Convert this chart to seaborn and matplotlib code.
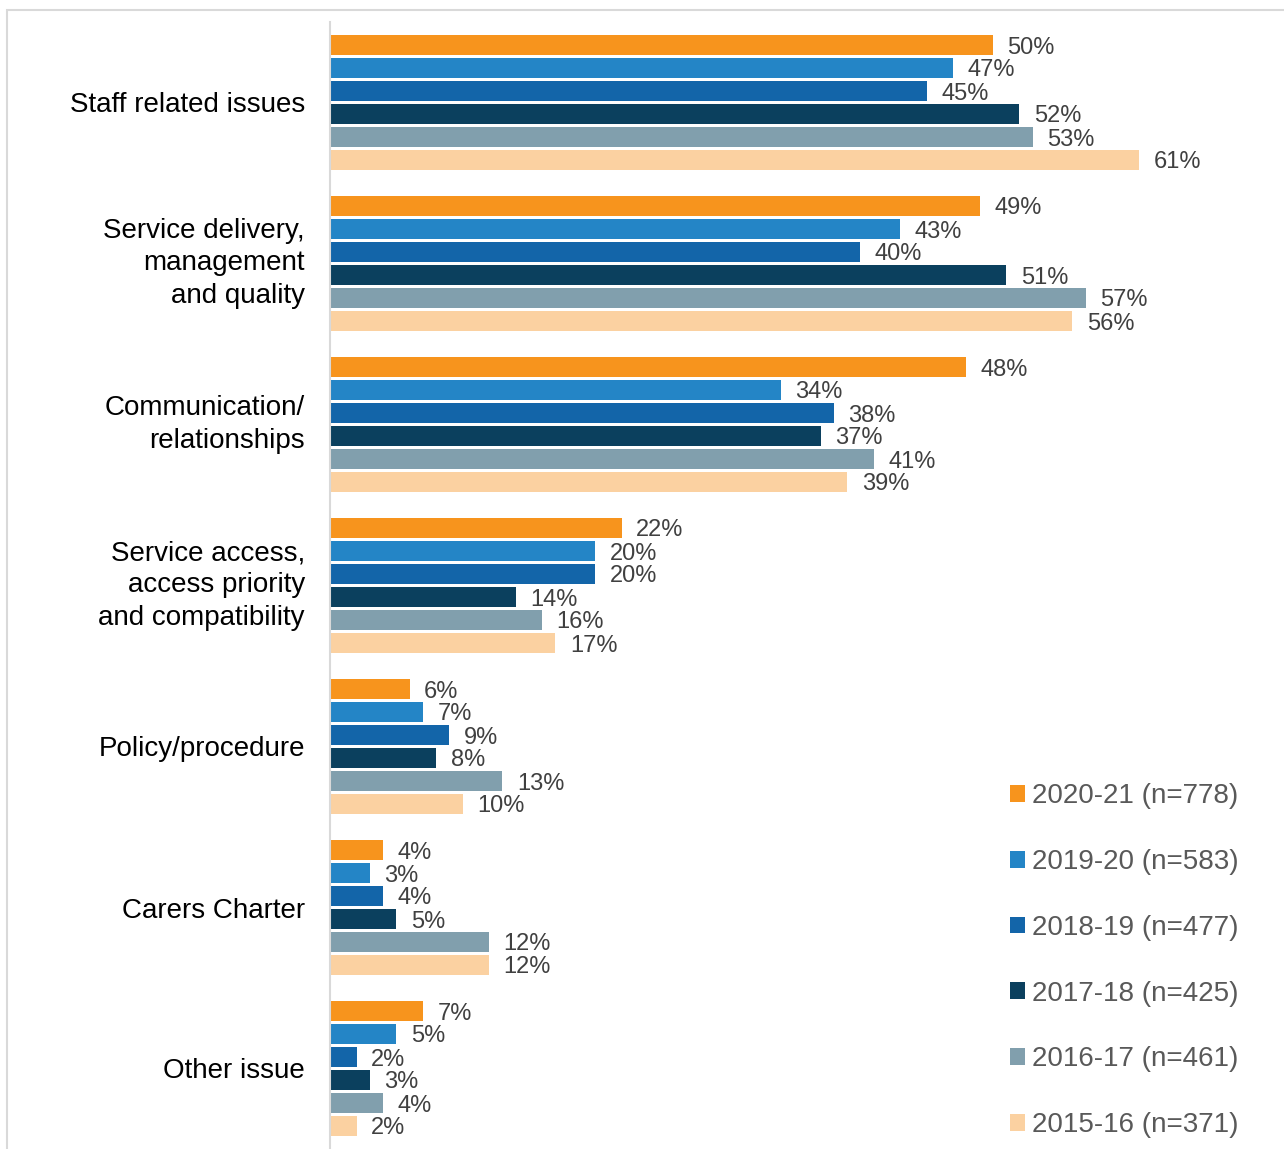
import matplotlib
matplotlib.use("Agg")
import matplotlib.pyplot as plt
import matplotlib.patches as mpatches
import pandas as pd
import seaborn as sns

categories = [
    "Staff related issues",
    "Service delivery,\nmanagement\nand quality",
    "Communication/\nrelationships",
    "Service access,\naccess priority\nand compatibility",
    "Policy/procedure",
    "Carers Charter",
    "Other issue",
]
series = [
    "2020-21 (n=778)",
    "2019-20 (n=583)",
    "2018-19 (n=477)",
    "2017-18 (n=425)",
    "2016-17 (n=461)",
    "2015-16 (n=371)",
]
values_2020_21 = [50, 49, 48, 22, 6, 4, 7]
values_2019_20 = [47, 43, 34, 20, 7, 3, 5]
values_2018_19 = [45, 40, 38, 20, 9, 4, 2]
values_2017_18 = [52, 51, 37, 14, 8, 5, 3]
values_2016_17 = [53, 57, 41, 16, 13, 12, 4]
values_2015_16 = [61, 56, 39, 17, 10, 12, 2]
colors = ["#F7941D", "#2485C6", "#1365A9", "#0B405E", "#819FAD", "#FBD1A1"]

all_values = [values_2020_21, values_2019_20, values_2018_19,
              values_2017_18, values_2016_17, values_2015_16]
rows = []
for s, vals in zip(series, all_values):
    for c, v in zip(categories, vals):
        rows.append({"category": c, "period": s, "pct": v})
df = pd.DataFrame(rows)

sns.set_theme(style="white")
plt.rcParams["font.family"] = ["Liberation Sans", "DejaVu Sans"]

W, H = 1284, 1149
fig = plt.figure(figsize=(W / 100, H / 100), dpi=100)
ax = fig.add_axes([330 / W, 0.0, 928 / W, 1 - 22 / H])

sns.barplot(
    data=df, y="category", x="pct", hue="period",
    order=categories, hue_order=series,
    palette=dict(zip(series, colors)),
    orient="h", width=6 / 7, gap=0.17, ax=ax,
    saturation=1, errorbar=None, linewidth=0,
)

for cont in ax.containers:
    labels = ax.bar_label(cont, fmt="{:.0f}%", padding=10.5,
                          fontsize=17, color="#404040")
    for t in labels:
        t.set_verticalalignment("center_baseline")

ax.set_xlim(0, 70)
ax.set_xlabel("")
ax.set_ylabel("")
ax.set_xticks([])
ax.tick_params(axis="y", length=0, pad=18, labelsize=20, labelcolor="black")
for lab in ax.get_yticklabels():
    lab.set_linespacing(1.32)
    if "\n" in lab.get_text():
        lab.set_verticalalignment("center")
for side in ["top", "right", "bottom"]:
    ax.spines[side].set_visible(False)
ax.spines["left"].set_color("#D9D9D9")
ax.spines["left"].set_linewidth(1.5)

sns.move_legend(
    ax, loc="lower right",
    bbox_to_anchor=(1239 / W, 1 - 1138 / H), bbox_transform=fig.transFigure,
    title=None, frameon=False, fontsize=20, labelcolor="#595959",
    handlelength=0.55, handleheight=0.55, handletextpad=0.25,
    labelspacing=1.43, borderpad=0, borderaxespad=0,
)

# light frame around the whole figure
fig.patches.append(mpatches.Rectangle(
    (7 / W, -0.05), 1.0, 1 - 10 / H + 0.05, transform=fig.transFigure,
    fill=False, edgecolor="#D9D9D9", linewidth=1.5, zorder=0))

fig.savefig("out.png", dpi=100)
